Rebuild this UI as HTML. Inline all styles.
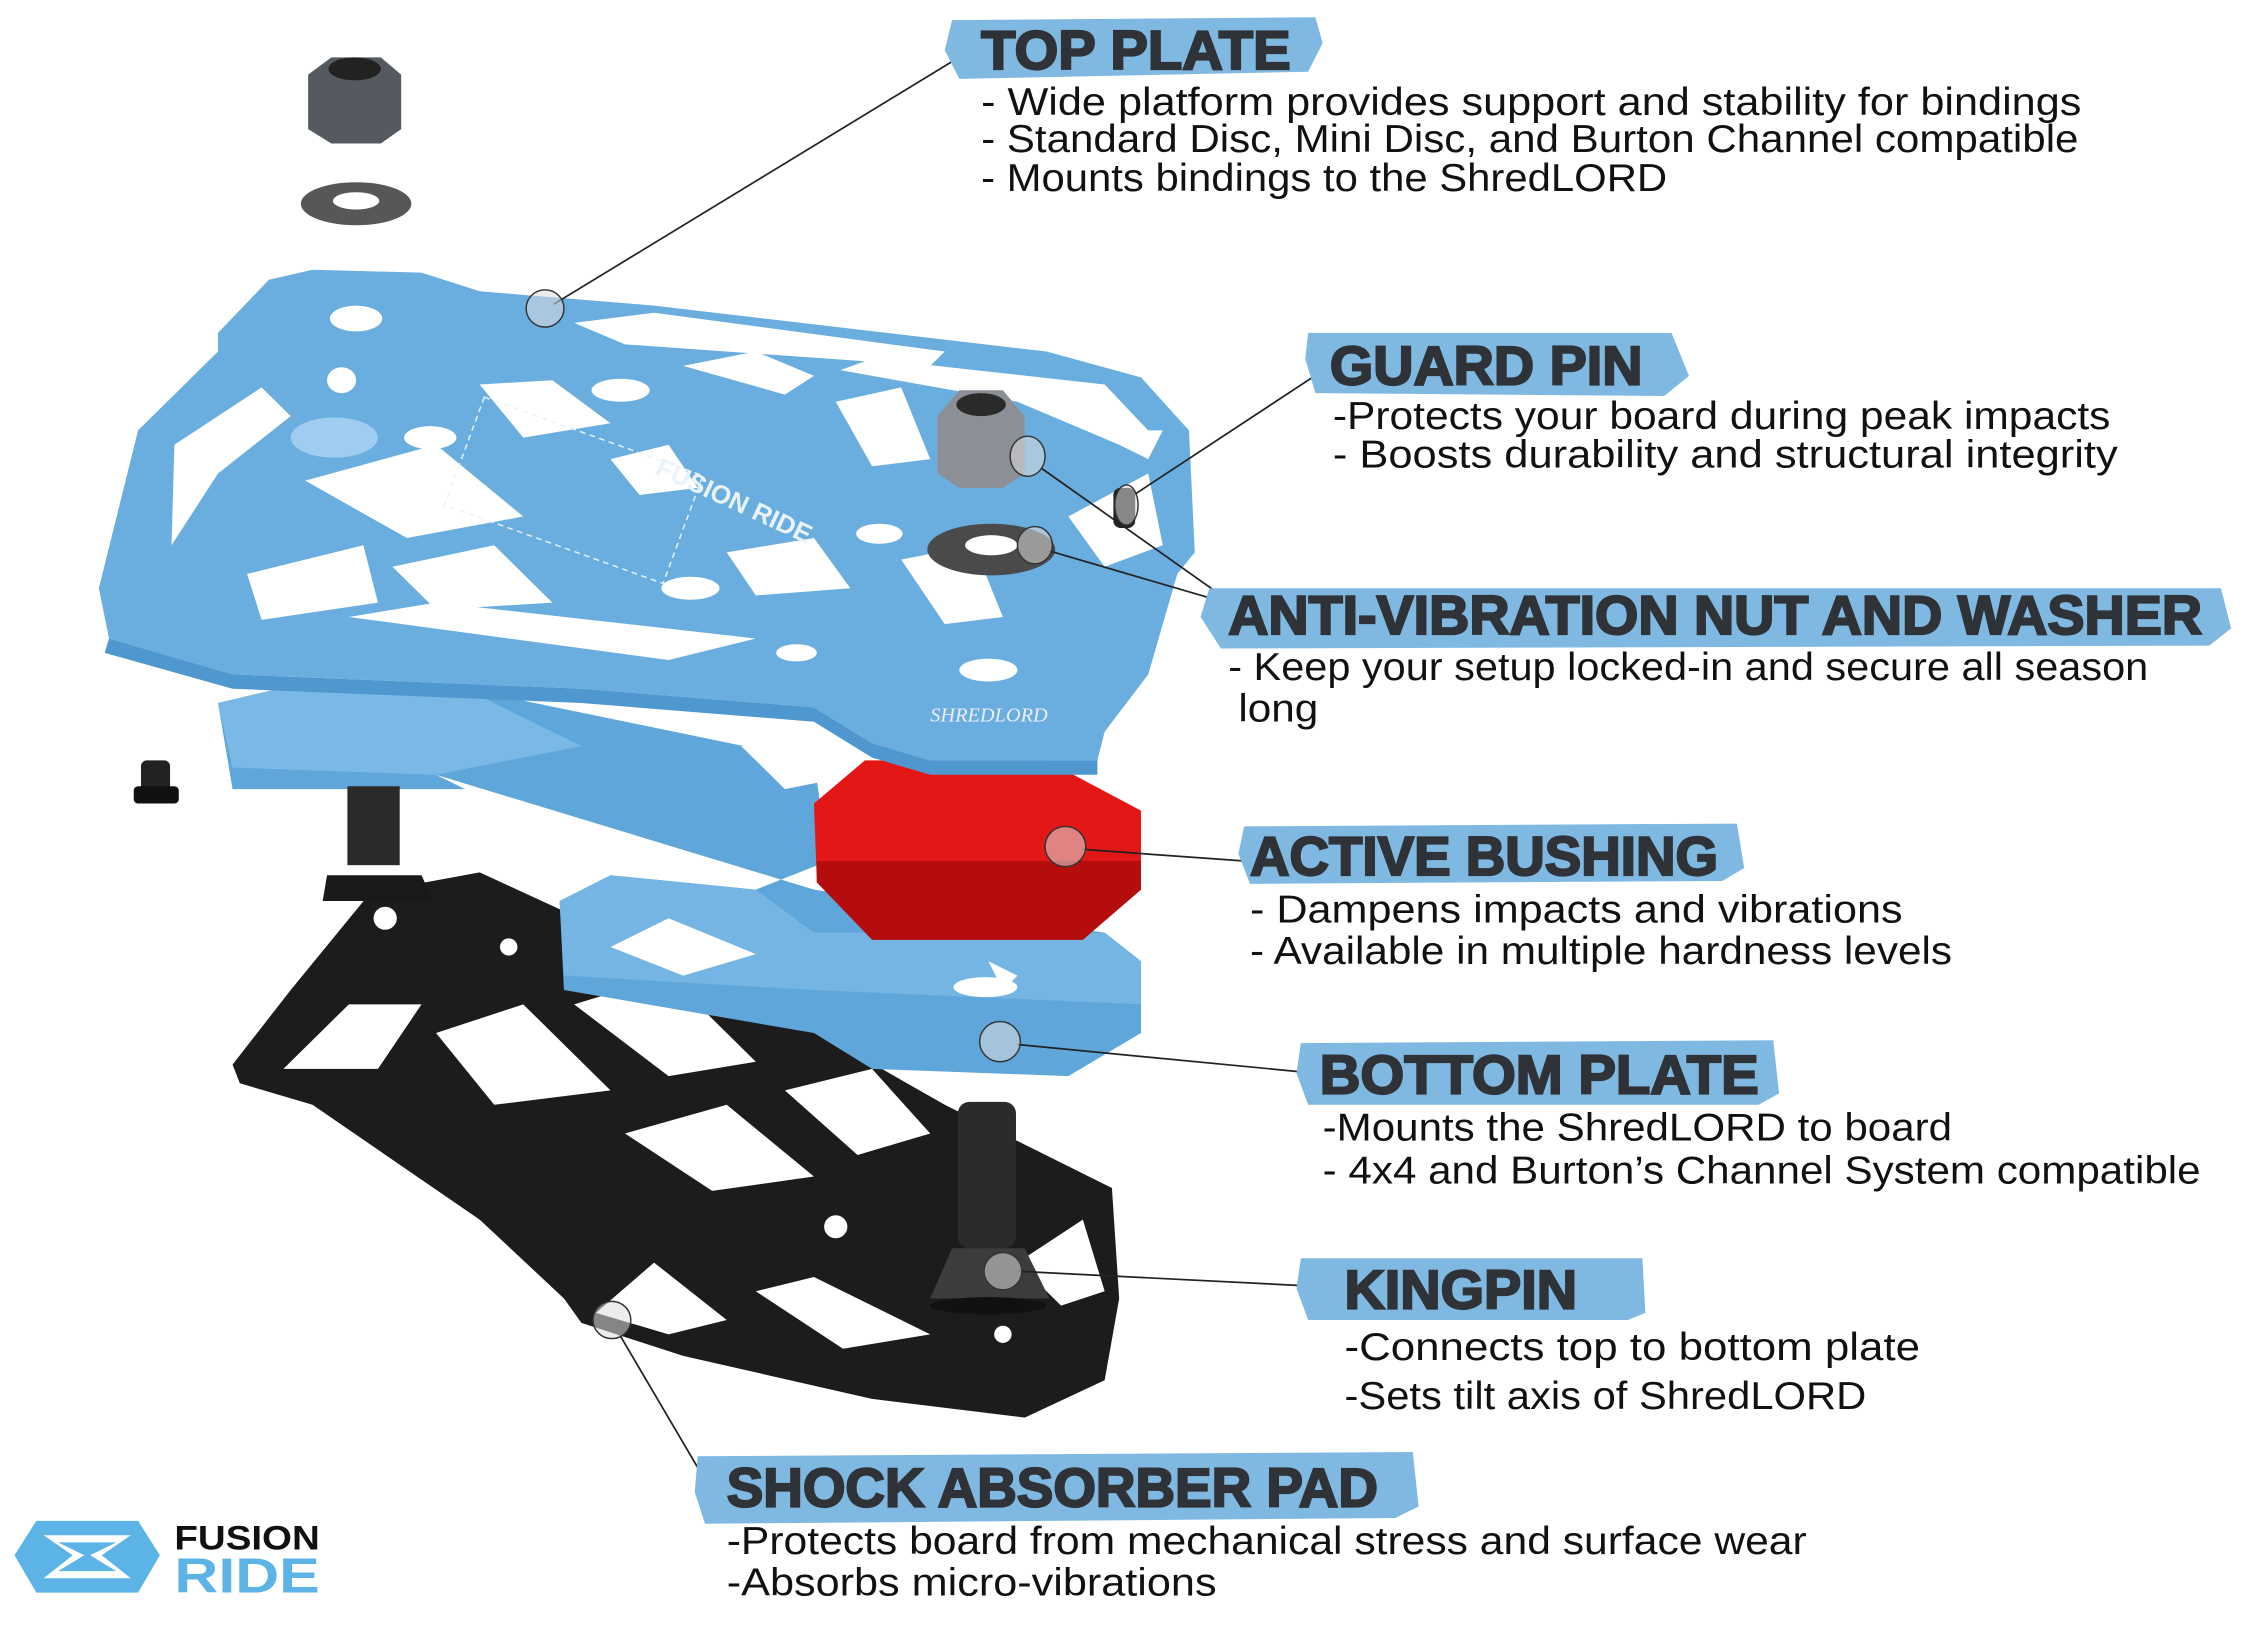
<!DOCTYPE html>
<html><head><meta charset="utf-8"><style>
html,body{margin:0;padding:0;background:#fff;}
svg{display:block}
.h{font-family:"Liberation Sans",sans-serif;font-weight:900;fill:#2f3236;font-size:38px;stroke:#2f3236;stroke-width:1.5}
.t{font-family:"Liberation Sans Narrow","Liberation Sans",sans-serif;fill:#111;font-size:27px}
.ln{stroke:#222;stroke-width:1.2;fill:none}
.cir{fill:rgba(220,220,220,0.55);stroke:#333;stroke-width:1}
.br{fill:#7fb9e2}
</style></head><body>
<svg width="2250" height="1650" viewBox="0 0 1548 1150" preserveAspectRatio="none" xmlns="http://www.w3.org/2000/svg">
<rect width="1548" height="1150" fill="#fff"/>

<!-- black pad -->
<polygon points="160,742 200,690 255,622 330,608 420,650 560,718 650,770 765,828 770,905 760,962 705,988 600,975 470,945 400,922 388,905 330,850 215,770 165,755" fill="#1c1c1c"/>
<g fill="#fff">
<polygon points="195,745 240,700 290,700 260,745"/>
<polygon points="300,720 360,700 420,760 340,770"/>
<polygon points="395,700 460,680 520,740 460,750"/>
<polygon points="430,790 500,770 560,820 490,830"/>
<polygon points="540,760 600,745 640,790 590,805"/>
<polygon points="410,915 450,880 500,920 460,930"/>
<polygon points="520,900 560,890 640,930 580,940"/>
<polygon points="700,880 745,850 760,900 730,910"/>
<circle cx="265" cy="640" r="8"/><circle cx="350" cy="660" r="6"/><circle cx="370" cy="720" r="7"/><circle cx="575" cy="855" r="8"/><circle cx="690" cy="930" r="6"/>
</g>

<!-- lower blue plate -->
<polygon points="150,490 200,478 320,480 560,530 570,600 520,620 420,610 385,628 388,690 560,720 600,745 735,750 785,720 785,670 760,650 560,620 300,540 320,550 160,550" fill="#5fa6da"/>
<polygon points="150,490 200,478 320,480 400,520 300,540 160,535" fill="#7ab8e6"/>
<polygon points="385,628 420,610 520,620 560,650 760,650 785,670 785,700 560,690 388,680" fill="#74b5e4"/>
<g fill="#fff"><polygon points="420,660 460,640 520,665 470,680"/><polygon points="510,520 560,505 590,540 540,550"/><polygon points="680,670 700,680 690,690"/><ellipse cx="678" cy="688" rx="22" ry="7"/></g>

<!-- bolts -->
<rect x="239" y="548" width="36" height="55" fill="#2a2a2a"/>
<polygon points="225,610 290,610 298,628 222,628" fill="#1a1a1a"/>
<rect x="659" y="768" width="40" height="102" rx="8" fill="#2b2b2b"/>
<polygon points="655,870 705,870 722,905 640,905" fill="#3c3c3c"/>
<ellipse cx="680" cy="910" rx="40" ry="6" fill="#111"/>
<rect x="97" y="530" width="20" height="22" rx="4" fill="#222"/><rect x="92" y="548" width="31" height="12" rx="3" fill="#111"/>

<!-- red bushings -->
<polygon points="160,310 195,290 260,285 330,330 340,370 300,392 220,385 160,352" fill="#e31818"/>
<polygon points="560,560 595,530 720,530 785,565 785,620 745,655 600,655 562,615" fill="#e41717"/>
<polygon points="562,615 600,655 745,655 785,620 785,600 562,600" fill="#b50d0d"/>

<!-- top plate -->
<polygon points="68,410 95,300 150,245 150,232 185,195 215,188 290,190 330,203 450,213 720,245 785,263 818,300 822,385 810,400 790,470 760,510 755,530 640,530 600,518 560,493 400,480 160,470 75,445" fill="#6aaedf"/>
<polygon points="75,445 160,470 400,480 560,493 600,518 640,530 755,530 755,540 640,540 600,528 560,503 400,490 160,480 72,455" fill="#4e97cf"/>
<g fill="#fff">
<polygon points="395,225 450,218 650,245 640,255 430,240"/>
<polygon points="578,258 600,250 760,268 790,300 770,310 700,280"/>
<polygon points="470,255 520,245 560,262 540,275"/>
<polygon points="330,268 380,265 420,295 360,305"/>
<polygon points="575,280 620,270 640,320 600,325"/>
<polygon points="120,310 180,270 200,290 150,330 118,380"/>
<polygon points="210,335 300,310 360,360 280,375"/>
<polygon points="170,400 250,380 260,420 180,432"/>
<polygon points="270,395 340,380 380,420 300,425"/>
<polygon points="500,385 560,375 585,410 520,415"/>
<polygon points="620,390 670,380 690,430 650,435"/>
<polygon points="735,360 790,330 800,380 760,395"/>
<polygon points="240,430 300,420 520,445 460,460"/>
<polygon points="420,320 460,310 480,340 440,345"/>
<polygon points="750,300 800,300 790,320"/>
<ellipse cx="245" cy="222" rx="18" ry="9"/><ellipse cx="427" cy="272" rx="20" ry="8"/><ellipse cx="296" cy="305" rx="18" ry="8"/>
<ellipse cx="475" cy="410" rx="20" ry="8"/><ellipse cx="605" cy="372" rx="16" ry="7"/><ellipse cx="680" cy="467" rx="20" ry="8"/>
<ellipse cx="235" cy="265" rx="10" ry="9"/><ellipse cx="548" cy="455" rx="14" ry="6"/>
</g>
<ellipse cx="230" cy="305" rx="30" ry="14" fill="#9fcdef"/>
<text x="450" y="330" transform="rotate(25 450 330)" font-family="Liberation Sans" font-weight="bold" font-size="18" fill="#e8f3fb">FUSION RIDE</text>
<rect x="315" y="300" width="160" height="80" fill="none" stroke="#e8f3fb" stroke-dasharray="4 3" transform="rotate(20 390 340)"/>
<text x="640" y="503" font-family="Liberation Serif" font-style="italic" font-size="14" fill="#eef">SHREDLORD</text>

<!-- hardware -->
<polygon points="212,52 228,40 262,40 276,52 276,90 262,100 228,100 212,90" fill="#555a60"/>
<ellipse cx="244" cy="48" rx="18" ry="8" fill="#222"/>
<ellipse cx="245" cy="142" rx="38" ry="15" fill="#575757"/><ellipse cx="245" cy="140" rx="16" ry="6" fill="#fff"/>
<polygon points="645,290 660,272 690,272 705,290 705,330 690,340 660,340 645,330" fill="#8c9096"/>
<ellipse cx="675" cy="282" rx="17" ry="8" fill="#2a2a2a"/>
<ellipse cx="682" cy="383" rx="44" ry="18" fill="#4a4a4a"/><ellipse cx="682" cy="380" rx="18" ry="7" fill="#fff"/>
<rect x="766" y="340" width="15" height="28" rx="5" fill="#222"/>

<!-- leaders -->
<g class="ln">
<line x1="381" y1="212" x2="663" y2="38"/>
<line x1="780" y1="345" x2="915" y2="255"/>
<line x1="716" y1="326" x2="850" y2="422"/>
<line x1="722" y1="384" x2="850" y2="422"/>
<line x1="745" y1="592" x2="855" y2="600"/>
<line x1="700" y1="728" x2="905" y2="748"/>
<line x1="700" y1="886" x2="915" y2="897"/>
<line x1="425" y1="928" x2="490" y2="1040"/>
</g>
<g class="cir">
<circle cx="375" cy="215" r="13"/><ellipse cx="775" cy="352" rx="8" ry="14"/>
<ellipse cx="707" cy="318" rx="12" ry="14"/><ellipse cx="712" cy="380" rx="12" ry="13"/>
<circle cx="733" cy="590" r="14"/><circle cx="688" cy="726" r="14"/><circle cx="690" cy="886" r="13"/><circle cx="421" cy="920" r="13"/>
</g>

<!-- banners -->
<polygon class="br" points="655,14 905,12 910,30 900,50 660,55 650,35"/>
<polygon class="br" points="900,232 1150,232 1162,262 1145,276 905,274 898,250"/>
<polygon class="br" points="832,410 1528,410 1535,438 1520,450 840,452 826,430"/>
<polygon class="br" points="856,576 1195,574 1200,605 1185,614 860,616 852,595"/>
<polygon class="br" points="895,727 1220,725 1224,762 1210,770 900,770 892,748"/>
<polygon class="br" points="895,877 1130,877 1132,915 1120,920 900,920 892,898"/>
<polygon class="br" points="480,1015 972,1012 976,1050 960,1058 485,1062 478,1040"/>

<text class="h" x="675" y="48" textLength="213" lengthAdjust="spacingAndGlyphs">TOP PLATE</text>
<text class="h" x="915" y="268" textLength="215" lengthAdjust="spacingAndGlyphs">GUARD PIN</text>
<text class="h" x="845" y="442" textLength="670" lengthAdjust="spacingAndGlyphs">ANTI-VIBRATION NUT AND WASHER</text>
<text class="h" x="860" y="610" textLength="322" lengthAdjust="spacingAndGlyphs">ACTIVE BUSHING</text>
<text class="h" x="908" y="762" textLength="302" lengthAdjust="spacingAndGlyphs">BOTTOM PLATE</text>
<text class="h" x="925" y="912" textLength="160" lengthAdjust="spacingAndGlyphs">KINGPIN</text>
<text class="h" x="500" y="1050" textLength="448" lengthAdjust="spacingAndGlyphs">SHOCK ABSORBER PAD</text>

<g class="t">
<text x="675" y="80" textLength="757" lengthAdjust="spacingAndGlyphs">- Wide platform provides support and stability for bindings</text>
<text x="675" y="106" textLength="755" lengthAdjust="spacingAndGlyphs">- Standard Disc, Mini Disc, and Burton Channel  compatible</text>
<text x="675" y="133" textLength="472" lengthAdjust="spacingAndGlyphs">- Mounts bindings to the ShredLORD</text>
<text x="917" y="299" textLength="535" lengthAdjust="spacingAndGlyphs">-Protects your board during peak impacts</text>
<text x="917" y="326" textLength="540" lengthAdjust="spacingAndGlyphs">- Boosts durability and structural integrity</text>
<text x="845" y="474" textLength="633" lengthAdjust="spacingAndGlyphs">- Keep your setup locked-in and secure all season</text>
<text x="852" y="503" textLength="55" lengthAdjust="spacingAndGlyphs">long</text>
<text x="860" y="643" textLength="449" lengthAdjust="spacingAndGlyphs">- Dampens  impacts and vibrations</text>
<text x="860" y="672" textLength="483" lengthAdjust="spacingAndGlyphs">- Available in multiple hardness levels</text>
<text x="910" y="795" textLength="433" lengthAdjust="spacingAndGlyphs">-Mounts the ShredLORD to board</text>
<text x="910" y="825" textLength="604" lengthAdjust="spacingAndGlyphs">- 4x4 and Burton’s Channel System compatible</text>
<text x="925" y="948" textLength="396" lengthAdjust="spacingAndGlyphs">-Connects top to bottom plate</text>
<text x="925" y="982" textLength="359" lengthAdjust="spacingAndGlyphs">-Sets tilt axis of ShredLORD</text>
<text x="500" y="1083" textLength="743" lengthAdjust="spacingAndGlyphs">-Protects board from mechanical stress and surface wear</text>
<text x="500" y="1112" textLength="337" lengthAdjust="spacingAndGlyphs">-Absorbs micro-vibrations</text>
</g>

<!-- logo -->
<polygon points="10,1084 25,1060 95,1060 110,1084 95,1110 25,1110" fill="#5bb3e6"/>
<polygon points="30,1070 90,1070 70,1084 90,1100 30,1100 50,1084" fill="#fff"/>
<polygon points="40,1075 80,1075 62,1084 80,1095 40,1095 58,1084" fill="#5bb3e6"/>
<text x="120" y="1080" font-family="Liberation Sans" font-weight="bold" font-size="24" fill="#111" textLength="100" lengthAdjust="spacingAndGlyphs">FUSION</text>
<text x="120" y="1110" font-family="Liberation Sans" font-weight="bold" font-size="34" fill="#5bb3e6" textLength="100" lengthAdjust="spacingAndGlyphs">RIDE</text>
</svg>
</body></html>
